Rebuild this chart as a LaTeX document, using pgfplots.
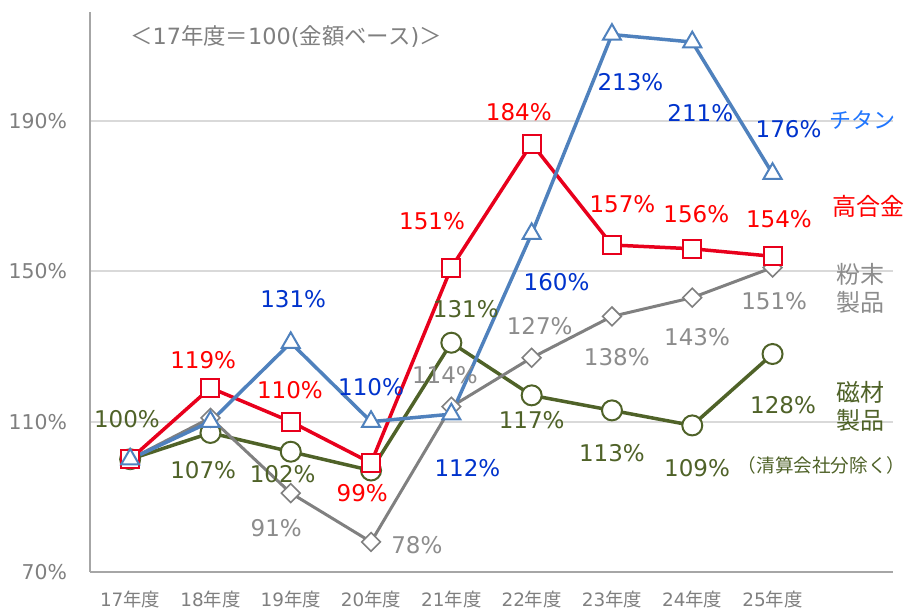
\documentclass[border=0pt]{standalone}
\usepackage{pgfplots}
\pgfplotsset{compat=1.18}
\usepackage{fontspec}
\setmainfont{Noto Sans CJK JP}
\newfontfamily\dv{DejaVu Sans}
\definecolor{tiline}{HTML}{4F81BD}
\definecolor{tilab}{HTML}{0033CC}
\definecolor{tiname}{HTML}{1F75FE}
\definecolor{haline}{HTML}{E8001C}
\definecolor{halab}{HTML}{FF0000}
\definecolor{pline}{HTML}{808080}
\definecolor{plab}{HTML}{8C8C8C}
\definecolor{mline}{HTML}{4F6228}
\definecolor{axgray}{HTML}{A6A6A6}
\definecolor{gridgray}{HTML}{D9D9D9}
\definecolor{tickgray}{HTML}{7F7F7F}
\newcommand{\lab}{\dv\fontsize{11.5}{13}\selectfont}

\begin{document}
\begin{tikzpicture}
\useasboundingbox (-45pt,-19pt) rectangle (408pt,286pt);
\begin{axis}[
  scale only axis,
  width=401.5pt, height=280pt,
  xmin=-0.5, xmax=9.5, ymin=70, ymax=219,
  axis lines*=left,
  axis line style={axgray, line width=1pt},
  xtick={0,...,8},
  xticklabels={{\dv 17}年度,{\dv 18}年度,{\dv 19}年度,{\dv 20}年度,{\dv 21}年度,{\dv 22}年度,{\dv 23}年度,{\dv 24}年度,{\dv 25}年度},
  ytick={70,110,150,190},
  yticklabels={70\%,110\%,150\%,190\%},
  major tick length=0pt,
  ymajorgrids,
  grid style={gridgray, line width=1pt},
  xticklabel style={font=\fontsize{9.2}{10}\selectfont, text=tickgray, yshift=-6pt},
  yticklabel style={font=\dv\fontsize{10.2}{12}\selectfont, text=tickgray, xshift=-8pt},
  clip=false,
]
% 磁材製品
\addplot[mline, line width=1.75pt, mark=*, mark size=5pt,
  mark options={fill=white, line width=1pt}] coordinates {
  (0,100)(1,107)(2,102)(3,97)(4,131)(5,117)(6,113)(7,109)(8,128)};
% 粉末製品
\addplot[pline, line width=1.5pt, mark=square*, mark size=3.3pt,
  mark options={fill=white, line width=0.8pt, rotate=45}] coordinates {
  (0,100)(1,111)(2,91)(3,78)(4,114)(5,127)(6,138)(7,143)(8,151)};
% 高合金
\addplot[haline, line width=1.75pt, mark=square*, mark size=4.5pt,
  mark options={fill=white, line width=1pt}] coordinates {
  (0,100)(1,119)(2,110)(3,99)(4,151)(5,184)(6,157)(7,156)(8,154)};
% チタン
\addplot[tiline, line width=1.75pt, mark=triangle*, mark size=5.2pt,
  mark options={fill=white, line width=1pt}] coordinates {
  (0,100)(1,110)(2,131)(3,110)(4,112)(5,160)(6,213)(7,211)(8,176)};

% labels
\begin{scope}[font=\lab]
\node[text=tilab] at (axis cs:2.03,142.5) {131\%};
\node[text=tilab] at (axis cs:3.0,119.3) {110\%};
\node[text=tilab] at (axis cs:4.2,97.7) {112\%};
\node[text=tilab] at (axis cs:5.31,147.1) {160\%};
\node[text=tilab] at (axis cs:6.23,200.4) {213\%};
\node[text=tilab] at (axis cs:7.1,192) {211\%};
\node[text=tilab] at (axis cs:8.2,187.9) {176\%};

\node[text=halab] at (axis cs:0.91,126.3) {119\%};
\node[text=halab] at (axis cs:1.99,118.3) {110\%};
\node[text=halab] at (axis cs:2.89,91.1) {99\%};
\node[text=halab] at (axis cs:3.76,163.3) {151\%};
\node[text=halab] at (axis cs:4.84,192.4) {184\%};
\node[text=halab] at (axis cs:6.13,167.9) {157\%};
\node[text=halab] at (axis cs:7.05,165.2) {156\%};
\node[text=halab] at (axis cs:8.08,163.9) {154\%};

\node[text=plab] at (axis cs:1.82,81.7) {91\%};
\node[text=plab] at (axis cs:3.57,77.2) {78\%};
\node[text=plab] at (axis cs:3.92,122.5) {114\%};
\node[text=plab] at (axis cs:5.1,135.3) {127\%};
\node[text=plab] at (axis cs:6.06,127.3) {138\%};
\node[text=plab] at (axis cs:7.06,132.4) {143\%};
\node[text=plab] at (axis cs:8.02,142) {151\%};

\node[text=mline] at (axis cs:-0.04,110.8) {100\%};
\node[text=mline] at (axis cs:0.91,97.2) {107\%};
\node[text=mline] at (axis cs:1.9,96.1) {102\%};
\node[text=mline] at (axis cs:4.18,139.9) {131\%};
\node[text=mline] at (axis cs:5.0,110.5) {117\%};
\node[text=mline] at (axis cs:6.0,101.7) {113\%};
\node[text=mline] at (axis cs:7.06,97.7) {109\%};
\node[text=mline] at (axis cs:8.13,114.5) {128\%};
\end{scope}

% series names
\node[text=tiname, font=\fontsize{11}{13}\selectfont] at (axis cs:9.12,190.3) {チタン};
\node[text=halab, font=\fontsize{12}{14}\selectfont] at (axis cs:9.2,167.3) {高合金};
\node[text=plab, font=\fontsize{12}{14}\selectfont, align=center] at (axis cs:9.09,145.5) {粉末\\製品};
\node[text=mline, font=\fontsize{12}{14}\selectfont, align=center] at (axis cs:9.09,114) {磁材\\製品};
\node[text=mline, font=\fontsize{9.3}{11}\selectfont] at (axis cs:8.61,98.3) {（清算会社分除く）};

% title
\node[text=tickgray, font=\fontsize{11.2}{13}\selectfont] at (axis cs:1.94,212.5) {＜{\dv 17}年度＝{\dv 100(}金額ベース{\dv )}＞};
\end{axis}
\end{tikzpicture}
\end{document}
